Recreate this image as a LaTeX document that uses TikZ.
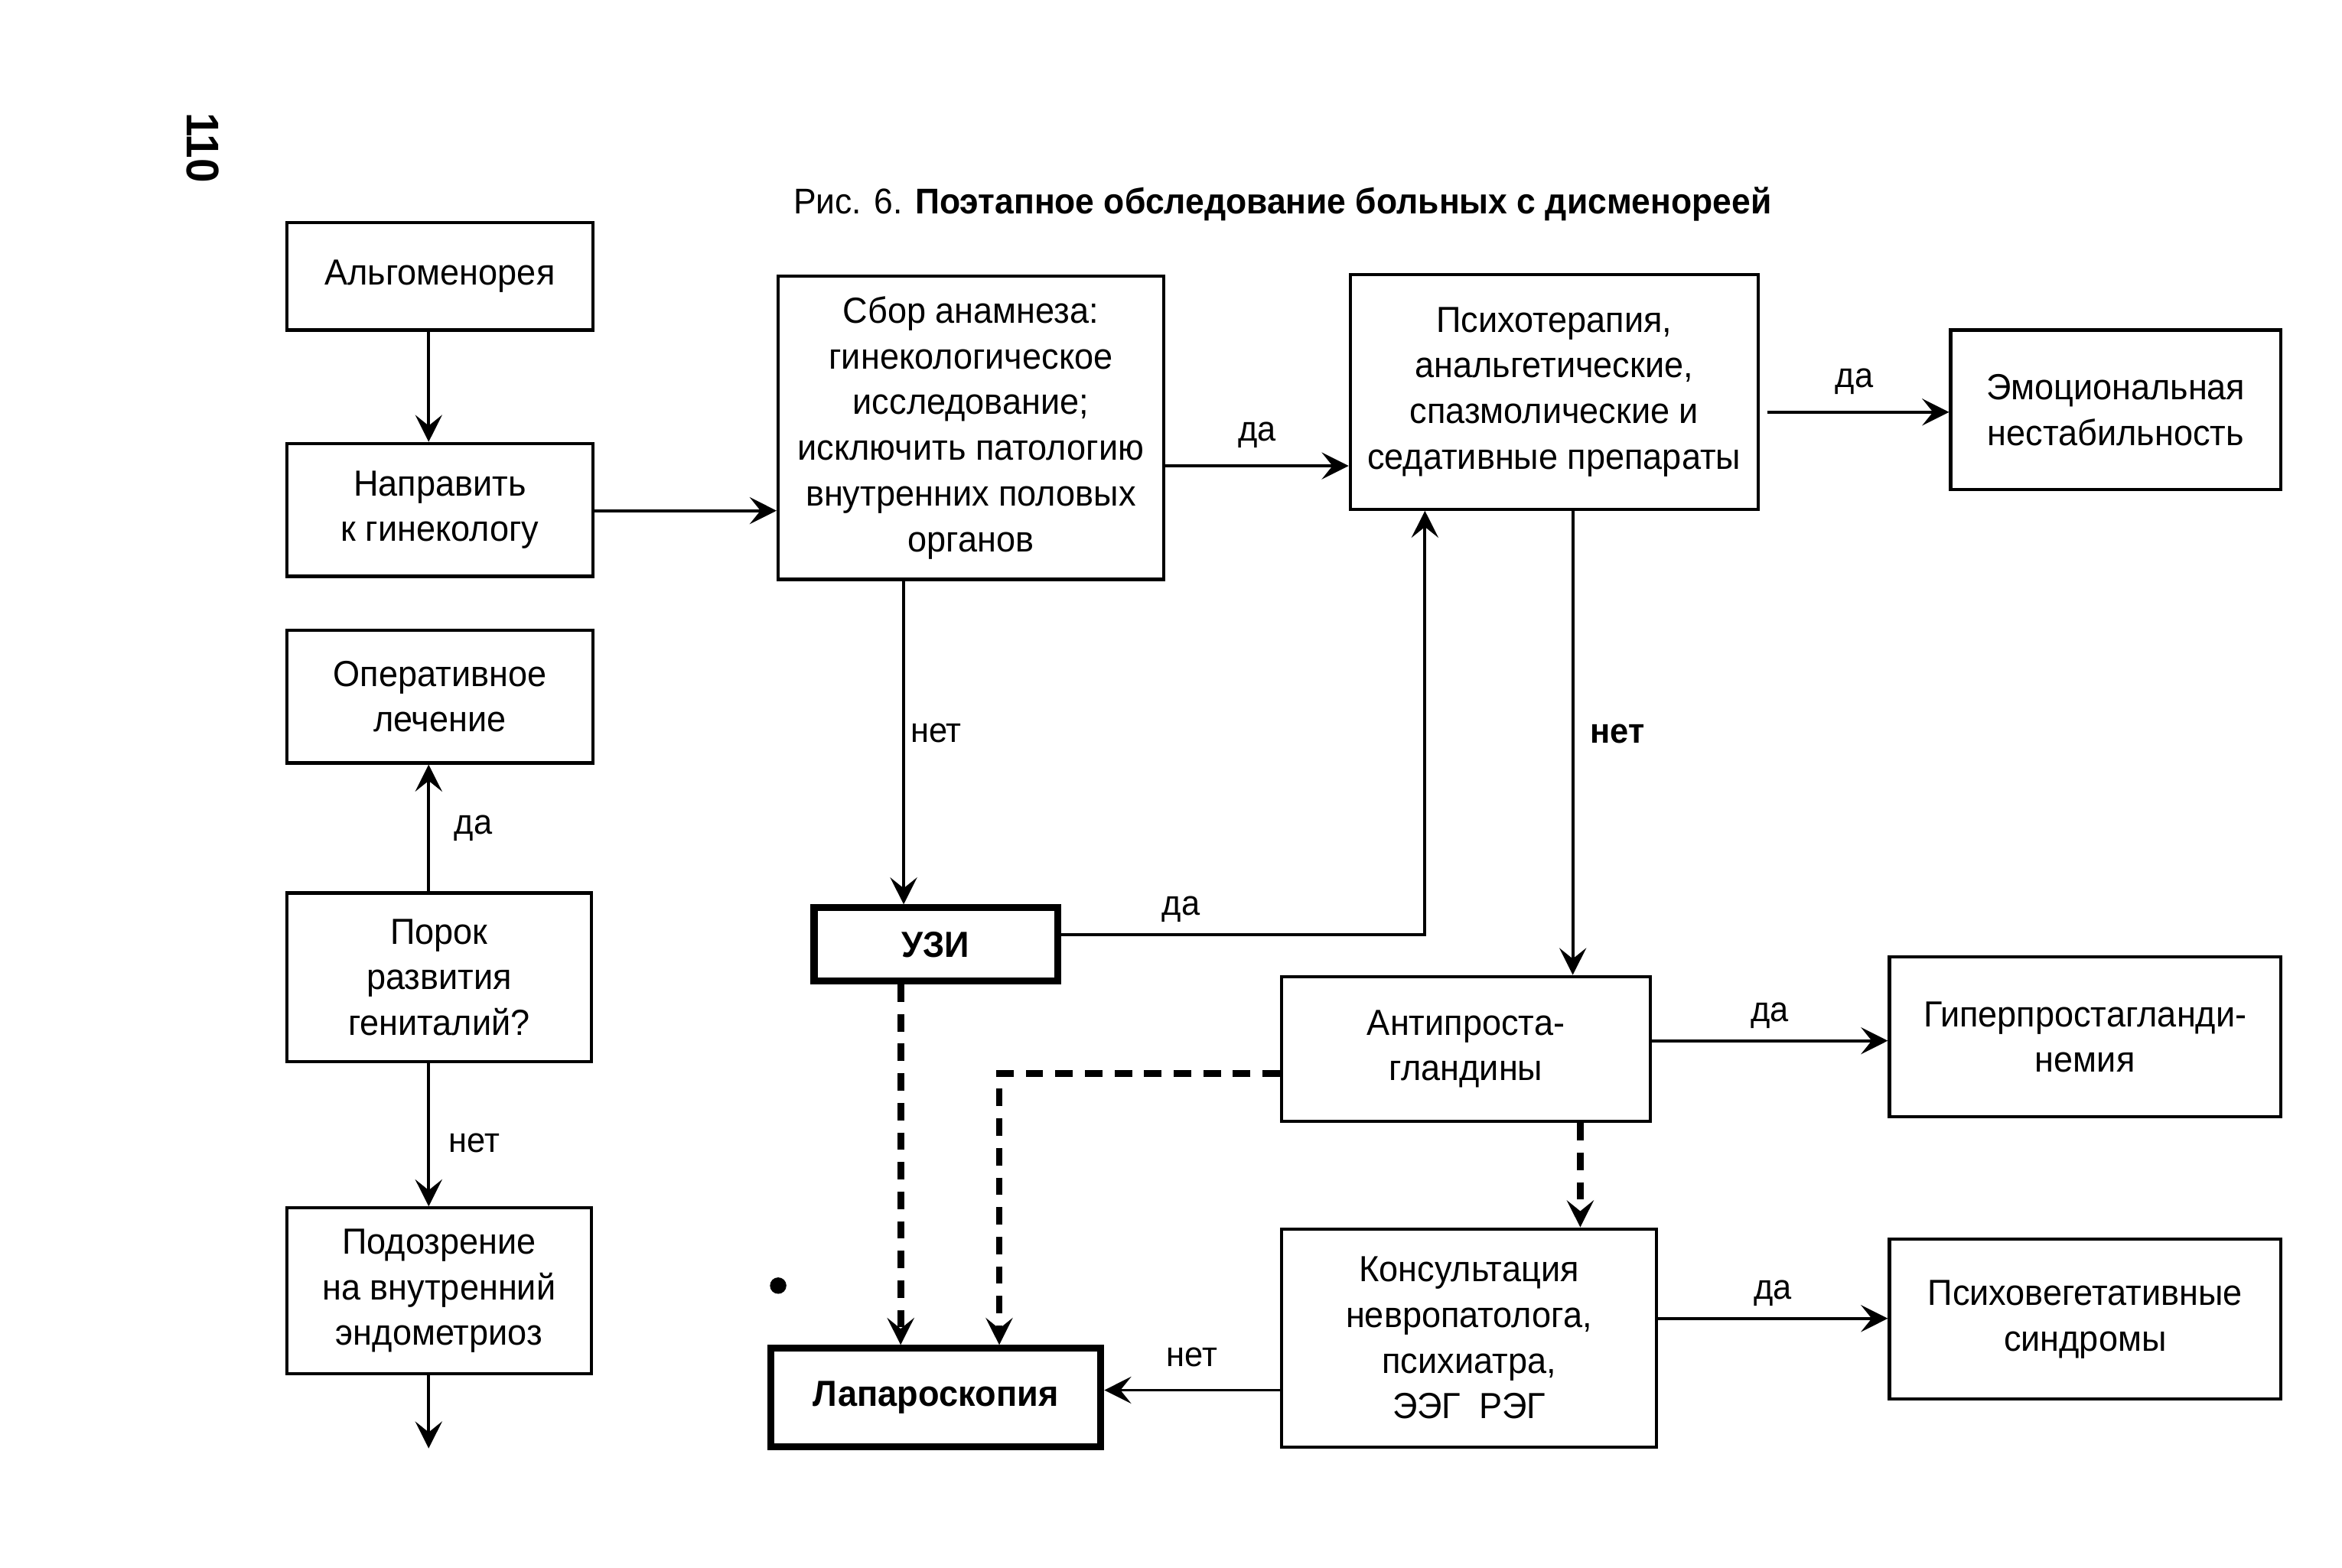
\documentclass[tikz,border=0pt]{standalone}
\usepackage{fontspec}
\setmainfont{Liberation Sans}[FakeStretch=0.95]
\usetikzlibrary{arrows.meta}

\newcommand{\px}{0.019522cm}

\begin{document}
\begin{tikzpicture}[x=\px, y=-\px,
    wh/.style 2 args={minimum width=#1*\px, minimum height=#2*\px},
    box/.style={draw, line width=1.2pt, align=center, inner sep=0pt,
        font=\fontsize{13.5}{17}\selectfont},
    thickbox/.style={box, line width=2.6pt,
        font=\fontsize{13.5}{17}\selectfont\bfseries},
    arr/.style={line width=1.1pt, -{Stealth[length=10pt, width=10pt, inset=4pt]}},
    dasharr/.style={arr, line width=2.5pt, dash pattern=on 6.5pt off 4.5pt},
    lbl/.style={font=\fontsize{13}{15}\selectfont, inner sep=1pt}]
\useasboundingbox (0,0) rectangle (1568,1050.1);

%% Page number and caption
\node[font=\fontsize{17}{17}\selectfont\bfseries, rotate=-90] (pagenum) at (136,99) {110};
\node[anchor=west, inner sep=0pt, font=\fontsize{13.3}{16}\selectfont] (title) at (531,137)
    {Рис. 6. \textbf{Поэтапное обследование больных с дисменореей}};

%% Left column
\node[box, wh={205}{72}] (algo) at (294.5,185) {Альгоменорея};
\node[box, wh={205}{89}] (naprav) at (294.5,341.5) {Направить\\к гинекологу};
\node[box, wh={205}{89}] (operat) at (294.5,466.5) {Оперативное\\лечение};
\node[box, wh={204}{113}] (porok) at (294,654.5) {Порок\\развития\\гениталий?};
\node[box, wh={204}{111}] (podozr) at (294,864.5) {Подозрение\\на внутренний\\эндометриоз};

%% Middle and right
\node[box, wh={258}{203}] (sbor) at (650,286.5)
    {Сбор анамнеза:\\гинекологическое\\исследование;\\исключить патологию\\внутренних половых\\органов};
\node[box, wh={273}{157}] (psycho) at (1040.5,262.5)
    {Психотерапия,\\анальгетические,\\спазмолические и\\седативные препараты};
\node[box, wh={221}{107}] (emoc) at (1416.5,274.5) {Эмоциональная\\нестабильность};
\node[thickbox, wh={163}{49}] (uzi) at (626.5,632.5) {УЗИ};
\node[thickbox, wh={221}{66}] (lapar) at (626.5,936) {Лапароскопия};
\node[box, wh={247}{97}] (antip) at (981.5,702.5) {Антипроста-\\гландины};
\node[box, wh={262}{107}] (giper) at (1396,694.5) {Гиперпростагланди-\\немия};
\node[box, wh={251}{146}] (konsul) at (983.5,896)
    {Консультация\\невропатолога,\\психиатра,\\ЭЭГ\enspace РЭГ};
\node[box, wh={262}{107}] (psyveg) at (1396,883.5) {Психовегетативные\\синдромы};

%% Line positions
\coordinate (xa) at (287,0);
\coordinate (xb) at (605,0);
\coordinate (xc) at (954,0);
\coordinate (xd) at (1053,0);
\coordinate (xe) at (1058,0);
\coordinate (xf) at (669,0);
\coordinate (xg) at (603,0);
\coordinate (ya) at (0,312);
\coordinate (yb) at (0,626);
\coordinate (yc) at (0,719);
\coordinate (yd) at (0,697);
\coordinate (ye) at (0,931);
\coordinate (yf) at (0,883);
\coordinate (yg) at (0,276);
\coordinate (yh) at (0,342);
\coordinate (tail) at (287,970);

%% Connectors
\draw[arr] (algo.south -| xa) -- (naprav.north -| xa);
\draw[arr] (naprav.east |- yh) -- (sbor.west |- yh);
\draw[arr] (sbor.east |- ya) -- (psycho.west |- ya) node[lbl, midway, above=5pt] {да};
\draw[arr, shorten <=5*\px] (psycho.east |- yg) -- (emoc.west |- yg) node[lbl, midway, above=5pt] {да};
\draw[arr] (sbor.south -| xb) -- (uzi.north -| xb) node[lbl, pos=0.47, right=1pt] {нет};
\draw[arr] (uzi.east |- yb) -- node[lbl, pos=0.33, above=3pt] {да} (yb -| xc) -- (psycho.south -| xc);
\draw[arr] (psycho.south -| xd) -- (antip.north -| xd)
    node[lbl, pos=0.48, right=5pt, font=\fontsize{13}{15}\selectfont\bfseries] {нет};
\draw[arr] (antip.east |- yd) -- (giper.west |- yd) node[lbl, midway, above=3pt] {да};
\draw[dasharr] (antip.south -| xe) -- (konsul.north -| xe);
\draw[dasharr] (antip.west |- yc) -- (yc -| xf) -- (lapar.north -| xf);
\draw[dasharr] (uzi.south -| xg) -- (lapar.north -| xg);
\draw[arr] (konsul.west |- ye) -- (lapar.east |- ye) node[lbl, midway, above=7pt] {нет};
\draw[arr] (konsul.east |- yf) -- (psyveg.west |- yf) node[lbl, midway, above=3pt] {да};
\draw[arr] (porok.north -| xa) -- (operat.south -| xa) node[lbl, midway, right=8pt] {да};
\draw[arr] (porok.south -| xa) -- (podozr.north -| xa) node[lbl, pos=0.56, right=6pt] {нет};
\draw[arr] (podozr.south -| xa) -- (tail);

\fill (521,861) circle [radius=5.5*\px];
\end{tikzpicture}
\end{document}
